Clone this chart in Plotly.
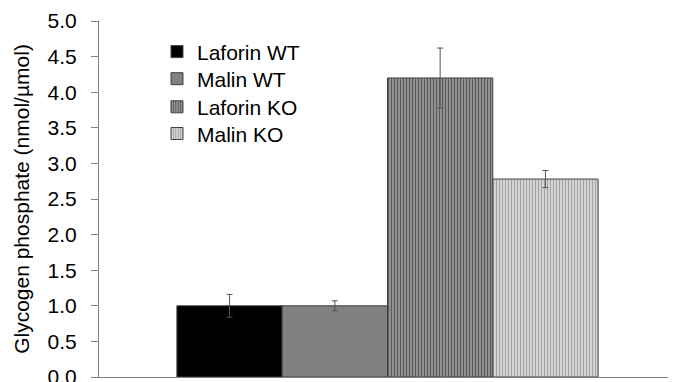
import plotly.graph_objects as go

series = ["Laforin WT", "Malin WT", "Laforin KO", "Malin KO"]
values = [1.00, 1.00, 4.20, 2.78]
errors = [0.16, 0.07, 0.42, 0.12]
category = ["Glycogen"]
y_ticks = [0.0, 0.5, 1.0, 1.5, 2.0, 2.5, 3.0, 3.5, 4.0, 4.5, 5.0]

fills = [
    dict(color="#000000"),
    dict(color="#808080"),
    dict(color="#b0b0b0", pattern=dict(shape="|", fgcolor="#000000", bgcolor="#b4b4b4", size=3, solidity=0.6)),
    dict(color="#ffffff", pattern=dict(shape="|", fgcolor="#666666", bgcolor="#e2e2e2", size=3, solidity=0.5)),
]
legend_ids = ["legend", "legend2", "legend3", "legend4"]
legend_rows = [0.913, 0.837, 0.758, 0.683]

fig = go.Figure()
for name, v, e, f, lid in zip(series, values, errors, fills, legend_ids):
    fig.add_trace(go.Bar(
        x=category, y=[v], name=name, legend=lid,
        marker=dict(line=dict(color="#404040", width=1), **f),
        error_y=dict(type="data", array=[e], color="#555555", thickness=1, width=3),
    ))

leg_common = dict(x=0.1005, xanchor="left", yanchor="middle", font=dict(size=21),
                  bgcolor="rgba(0,0,0,0)", itemwidth=30)
legend_layout = {lid: dict(y=ry, **leg_common) for lid, ry in zip(legend_ids, legend_rows)}

fig.update_layout(
    width=668, height=374,
    margin=dict(l=91, r=0, t=13, b=5),
    paper_bgcolor="white", plot_bgcolor="white",
    barmode="group", bargap=0.27, bargroupgap=0,
    font=dict(family="Liberation Sans, Arial, sans-serif", color="#000000"),
    showlegend=True,
    xaxis=dict(showticklabels=False, ticks="", showline=True, linecolor="#808080",
               linewidth=1, showgrid=False, zeroline=False),
    yaxis=dict(range=[0, 5], tickvals=y_ticks, ticktext=[f"{t:.1f}" for t in y_ticks],
               ticks="outside", ticklen=7, tickcolor="#808080", showline=True,
               linecolor="#808080", linewidth=1, showgrid=False, zeroline=False,
               tickfont=dict(size=21), automargin=False, ticklabelstandoff=10,
               ticklabeloverflow="allow",
               title=dict(text="Glycogen phosphate (nmol/µmol)", font=dict(size=21), standoff=12)),
    **legend_layout,
)

fig.write_html("out.html")
